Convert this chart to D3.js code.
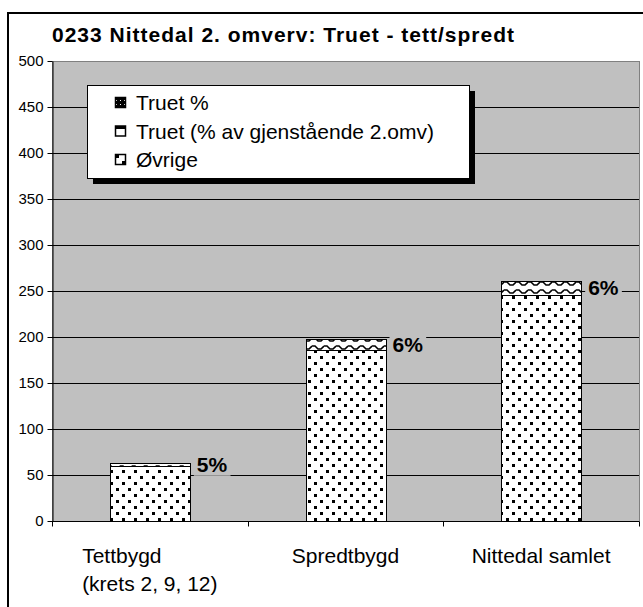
<!DOCTYPE html>
<html>
<head>
<meta charset="utf-8">
<script src="https://cdn.jsdelivr.net/npm/d3@7"></script>
<style>
  body { margin: 0; background: #fff; }
  text { font-family: "Liberation Sans", Arial, sans-serif; }
</style>
</head>
<body>
<div id="viz"></div>
<script>
// chart data
var categories = [["Tettbygd", "(krets 2, 9, 12)"], ["Spredtbygd"], ["Nittedal samlet"]];
var ovrige = [60, 186, 246];
var truetGjen = [3, 12, 15];
var truetPct = [0, 0, 0];
var pctLabels = ["5%", "6%", "6%"];
var yTicks = [0, 50, 100, 150, 200, 250, 300, 350, 400, 450, 500];
var seriesNames = ["Truet %", "Truet (% av gjenstående 2.omv)", "Øvrige"];
var title = "0233 Nittedal 2. omverv: Truet - tett/spredt";

var svg = d3.select('#viz').append('svg')
  .attr('width', 643)
  .attr('height', 607);

// patterns
var defs = svg.append('defs');

var dots = defs.append('pattern')
  .attr('id', 'pDots')
  .attr('patternUnits', 'userSpaceOnUse')
  .attr('width', 12).attr('height', 12);
dots.append('rect').attr('width', 12).attr('height', 12).attr('fill', '#fff');
dots.append('rect').attr('x', 2).attr('y', 2).attr('width', 3).attr('height', 3).attr('fill', '#000');
dots.append('rect').attr('x', 8).attr('y', 8).attr('width', 3).attr('height', 3).attr('fill', '#000');

var wave = defs.append('pattern')
  .attr('id', 'pWave')
  .attr('patternUnits', 'userSpaceOnUse')
  .attr('width', 12).attr('height', 8);
wave.append('rect').attr('width', 12).attr('height', 8).attr('fill', '#fff');
wave.append('path')
  .attr('d', 'M0,2 L3,2 L6,5 L9,5 L12,2')
  .attr('fill', 'none').attr('stroke', '#000').attr('stroke-width', 1.6);

var check = defs.append('pattern')
  .attr('id', 'pCheck')
  .attr('patternUnits', 'userSpaceOnUse')
  .attr('width', 4).attr('height', 4);
check.append('rect').attr('width', 4).attr('height', 4).attr('fill', '#000');
check.append('rect').attr('x', 0).attr('y', 0).attr('width', 2).attr('height', 2).attr('fill', '#fff');

// legend swatch patterns (smaller)
var sw1 = defs.append('pattern')
  .attr('id', 'sCheck').attr('patternUnits', 'userSpaceOnUse')
  .attr('width', 4).attr('height', 4);
sw1.append('rect').attr('width', 4).attr('height', 4).attr('fill', '#000');
sw1.append('rect').attr('x', 1).attr('y', 1).attr('width', 1).attr('height', 1).attr('fill', '#fff');

var fills = {"Øvrige": "url(#pDots)", "Truet (% av gjenstående 2.omv)": "url(#pWave)", "Truet %": "url(#pCheck)"};

// outer frame
svg.append('rect')
  .attr('x', 8).attr('y', 13)
  .attr('width', 700).attr('height', 700)
  .attr('fill', 'none').attr('stroke', '#000').attr('stroke-width', 2);

// title
svg.append('text')
  .attr('x', 52).attr('y', 42)
  .attr('font-size', 21).attr('font-weight', 'bold')
  .attr('letter-spacing', 1)
  .text(title);

// plot area
var plotLeft = 52, plotRight = 639, plotTop = 61, plotBottom = 521;

var y = d3.scaleLinear().domain([0, 500]).range([plotBottom, plotTop]);
var x = d3.scaleBand().domain(d3.range(categories.length)).range([plotLeft, plotRight]);
var barW = 80;

svg.append('rect')
  .attr('x', plotLeft + 0.5).attr('y', plotTop + 0.5)
  .attr('width', plotRight - plotLeft).attr('height', plotBottom - plotTop)
  .attr('fill', '#c0c0c0')
  .attr('stroke', '#808080');

// gridlines
svg.append('g').selectAll('line')
  .data(yTicks.filter(function(d) { return d > 0 && d < 500; }))
  .enter().append('line')
  .attr('x1', plotLeft).attr('x2', plotRight)
  .attr('y1', function(d) { return Math.round(y(d)) + 0.5; })
  .attr('y2', function(d) { return Math.round(y(d)) + 0.5; })
  .attr('stroke', '#000');

// stacked bars
var rows = categories.map(function(c, i) {
  return {"Øvrige": ovrige[i], "Truet (% av gjenstående 2.omv)": truetGjen[i], "Truet %": truetPct[i]};
});
var stack = d3.stack().keys(["Øvrige", "Truet (% av gjenstående 2.omv)", "Truet %"]);
var layers = stack(rows);

var bars = svg.append('g');
layers.forEach(function(layer) {
  bars.selectAll(null)
    .data(layer.filter(function(d) { return d[1] - d[0] > 0; }).map(function(d) { return {d: d, i: layer.indexOf(d)}; }))
    .enter().append('rect')
    .attr('x', function(o) { return Math.round(x(o.i) + x.bandwidth() / 2 - barW / 2) + 0.5; })
    .attr('y', function(o) { return Math.round(y(o.d[1])) + 0.5; })
    .attr('width', barW)
    .attr('height', function(o) { return Math.round(y(o.d[0])) - Math.round(y(o.d[1])); })
    .attr('fill', fills[layer.key])
    .attr('stroke', '#000');
});

// percentage labels
var labels = svg.append('g');
categories.forEach(function(c, i) {
  var total = ovrige[i] + truetGjen[i] + truetPct[i];
  var ly = (y(total) + y(ovrige[i])) / 2;
  var lx = x(i) + x.bandwidth() / 2 + barW / 2 + 7;
  var t = labels.append('text')
    .attr('x', lx).attr('y', ly)
    .attr('dy', '0.35em')
    .attr('font-size', 21).attr('font-weight', 'bold')
    .text(pctLabels[i]);
  var bb = t.node().getBBox();
  labels.insert('rect', 'text')
    .attr('x', bb.x - 3).attr('y', bb.y)
    .attr('width', bb.width + 6).attr('height', bb.height)
    .attr('fill', '#c0c0c0');
});

// y axis
var yAxis = svg.append('g')
  .attr('transform', 'translate(' + (plotLeft + 0.5) + ',0)')
  .call(d3.axisLeft(y).tickValues(yTicks).tickSize(5).tickPadding(4).tickSizeOuter(0));
yAxis.selectAll('text').attr('font-size', 15).attr('fill', '#000');
yAxis.selectAll('line').attr('stroke', '#000');
yAxis.select('.domain').attr('stroke', '#000');

// x axis
var xAxis = svg.append('g')
  .attr('transform', 'translate(0,' + (plotBottom + 0.5) + ')');
xAxis.append('line')
  .attr('x1', plotLeft).attr('x2', plotRight)
  .attr('stroke', '#000');
xAxis.selectAll('.tick')
  .data(d3.range(categories.length + 1))
  .enter().append('line')
  .attr('x1', function(d) { return Math.round(plotLeft + d * x.bandwidth()) + 0.5; })
  .attr('x2', function(d) { return Math.round(plotLeft + d * x.bandwidth()) + 0.5; })
  .attr('y1', 0).attr('y2', 5)
  .attr('stroke', '#000');

// category labels (multi-line, left aligned as a centred block)
categories.forEach(function(lines, i) {
  var t = xAxis.append('text')
    .attr('font-size', 21)
    .attr('y', 41);
  lines.forEach(function(s, k) {
    t.append('tspan').attr('x', 0).attr('dy', k === 0 ? 0 : 28).text(s);
  });
  var w = t.node().getBBox().width;
  t.selectAll('tspan').attr('x', x(i) + x.bandwidth() / 2 - w / 2);
});

// legend
var legend = svg.append('g').attr('transform', 'translate(87,85)');
legend.append('rect')
  .attr('x', 6).attr('y', 6).attr('width', 382).attr('height', 93)
  .attr('fill', '#000');
legend.append('rect')
  .attr('x', 0.5).attr('y', 0.5).attr('width', 382).attr('height', 93)
  .attr('fill', '#fff').attr('stroke', '#000');
seriesNames.forEach(function(name, i) {
  var g = legend.append('g').attr('transform', 'translate(0,' + (18 + i * 28.5) + ')');
  var sw = g.append('rect')
    .attr('x', 28.5).attr('y', -5.5).attr('width', 10).attr('height', 10)
    .attr('stroke', '#000').attr('stroke-width', 1.5);
  if (i === 0) {
    sw.attr('fill', 'url(#sCheck)');
  } else if (i === 1) {
    sw.attr('fill', '#fff');
    g.append('rect').attr('x', 28.5).attr('y', -5.5).attr('width', 10).attr('height', 3).attr('fill', '#000');
  } else {
    sw.attr('fill', '#fff');
    g.append('rect').attr('x', 29).attr('y', -5).attr('width', 3).attr('height', 3).attr('fill', '#000');
    g.append('rect').attr('x', 35).attr('y', 1).attr('width', 3).attr('height', 3).attr('fill', '#000');
  }
  g.append('text')
    .attr('x', 49).attr('y', 0).attr('dy', '0.35em')
    .attr('font-size', 21)
    .text(name);
});
</script>
</body>
</html>
